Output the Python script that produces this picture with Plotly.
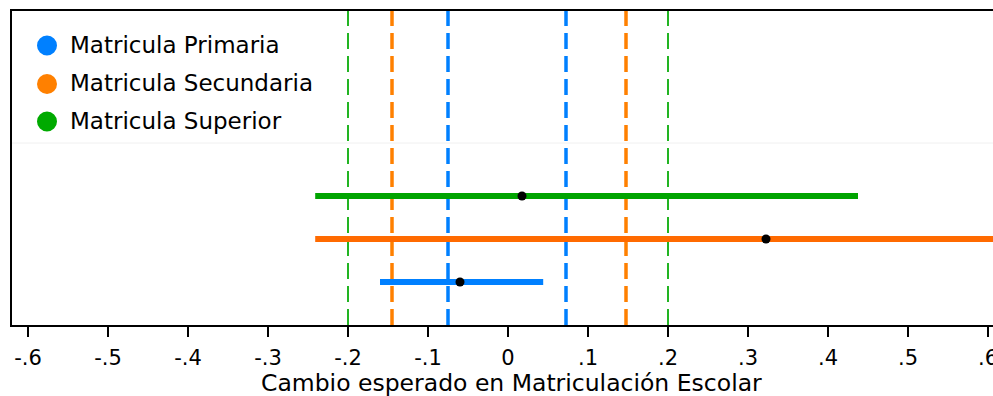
import plotly.graph_objects as go

# ---- data ----
categories = ["Matricula Primaria", "Matricula Secundaria", "Matricula Superior"]
positions = [1, 2, 3]
estimates = [-0.06, 0.3225, 0.0175]
ci_low = [-0.16, -0.241, -0.241]
ci_high = [0.044, 0.70, 0.4375]
thr_low = [-0.075, -0.145, -0.20]
thr_high = [0.0725, 0.1475, 0.20]
tick_vals = [-0.6, -0.5, -0.4, -0.3, -0.2, -0.1, 0, 0.1, 0.2, 0.3, 0.4, 0.5, 0.6]
tick_text = ["-.6", "-.5", "-.4", "-.3", "-.2", "-.1", "0", ".1", ".2", ".3", ".4", ".5", ".6"]
x_title = "Cambio esperado en Matriculación Escolar"

# ---- styles ----
bar_colors = ["#0080FF", "#FF6A00", "#00A400"]
legend_colors = ["#0080FF", "#FF8000", "#00AA00"]
dash_colors = ["#0080FF", "#FF8000", "#22B422"]
dash_widths = [3.5, 3.5, 2]
FONT = "DejaVu Sans"

W, H = 993, 396
ML, MR, MT, MB = 12, 0, 11, 71
PW, PH = W - ML - MR, H - MT - MB

def px_x(p):
    return (p - ML) / PW

def px_y(p):
    return 1 - (p - MT) / PH

fig = go.Figure()

for i, cat in enumerate(categories):
    fig.add_trace(go.Scatter(
        x=[ci_low[i], ci_high[i]], y=[positions[i], positions[i]],
        mode="lines", line=dict(color=bar_colors[i], width=6),
        showlegend=False, hoverinfo="skip"))

fig.add_trace(go.Scatter(
    x=estimates, y=positions, mode="markers",
    marker=dict(color="black", size=9), showlegend=False))

shapes = []
for i in range(len(categories)):
    for xv in (thr_low[i], thr_high[i]):
        shapes.append(dict(type="line", xref="x", yref="y domain",
                           x0=xv, x1=xv, y0=0, y1=1, layer="below",
                           line=dict(color=dash_colors[i], width=dash_widths[i], dash="16px,7px")))

# faint separator line under legend area
shapes.append(dict(type="line", xref="paper", yref="paper", x0=0, x1=1,
                   y0=px_y(143), y1=px_y(143), layer="above",
                   line=dict(color="#f0f0f0", width=1)))

annotations = []
legend_y = [45.5, 84, 121.5]
for i, cat in enumerate(categories):
    cy = legend_y[i]
    shapes.append(dict(type="circle", xref="paper", yref="paper",
                       x0=px_x(37), x1=px_x(57), y0=px_y(cy + 10), y1=px_y(cy - 10),
                       fillcolor=legend_colors[i], line=dict(width=0)))
    annotations.append(dict(text=cat, xref="paper", yref="paper",
                            x=px_x(68), y=px_y(cy - 1), xanchor="left", yanchor="middle",
                            showarrow=False, font=dict(family=FONT, size=23, color="black")))

annotations.append(dict(text=x_title, xref="paper", yref="paper",
                        x=px_x(511), y=px_y(383), xanchor="center", yanchor="middle",
                        showarrow=False, font=dict(family=FONT, size=23.5, color="black")))

fig.update_layout(
    width=W, height=H,
    margin=dict(l=ML, r=MR, t=MT, b=MB, autoexpand=False),
    paper_bgcolor="white", plot_bgcolor="white",
    shapes=shapes, annotations=annotations,
    showlegend=False,
    xaxis=dict(range=[-0.62, 0.60625], tickvals=tick_vals, ticktext=tick_text,
               showgrid=False, zeroline=False, showline=True, linecolor="black",
               linewidth=2, mirror=True, ticks="outside", ticklen=10, tickwidth=1.5,
               tickcolor="black", automargin=False, ticklabeloverflow="allow",
               ticklabelstandoff=3,
               tickfont=dict(family=FONT, size=21, color="black")),
    yaxis=dict(range=[0, 7.3], showgrid=False, zeroline=False, showline=True,
               linecolor="black", linewidth=2, showticklabels=False, ticks="",
               automargin=False),
)

fig.write_html("out.html", config={"displayModeBar": False},
               post_script="document.body.style.margin='0';document.body.style.overflow='hidden';")
